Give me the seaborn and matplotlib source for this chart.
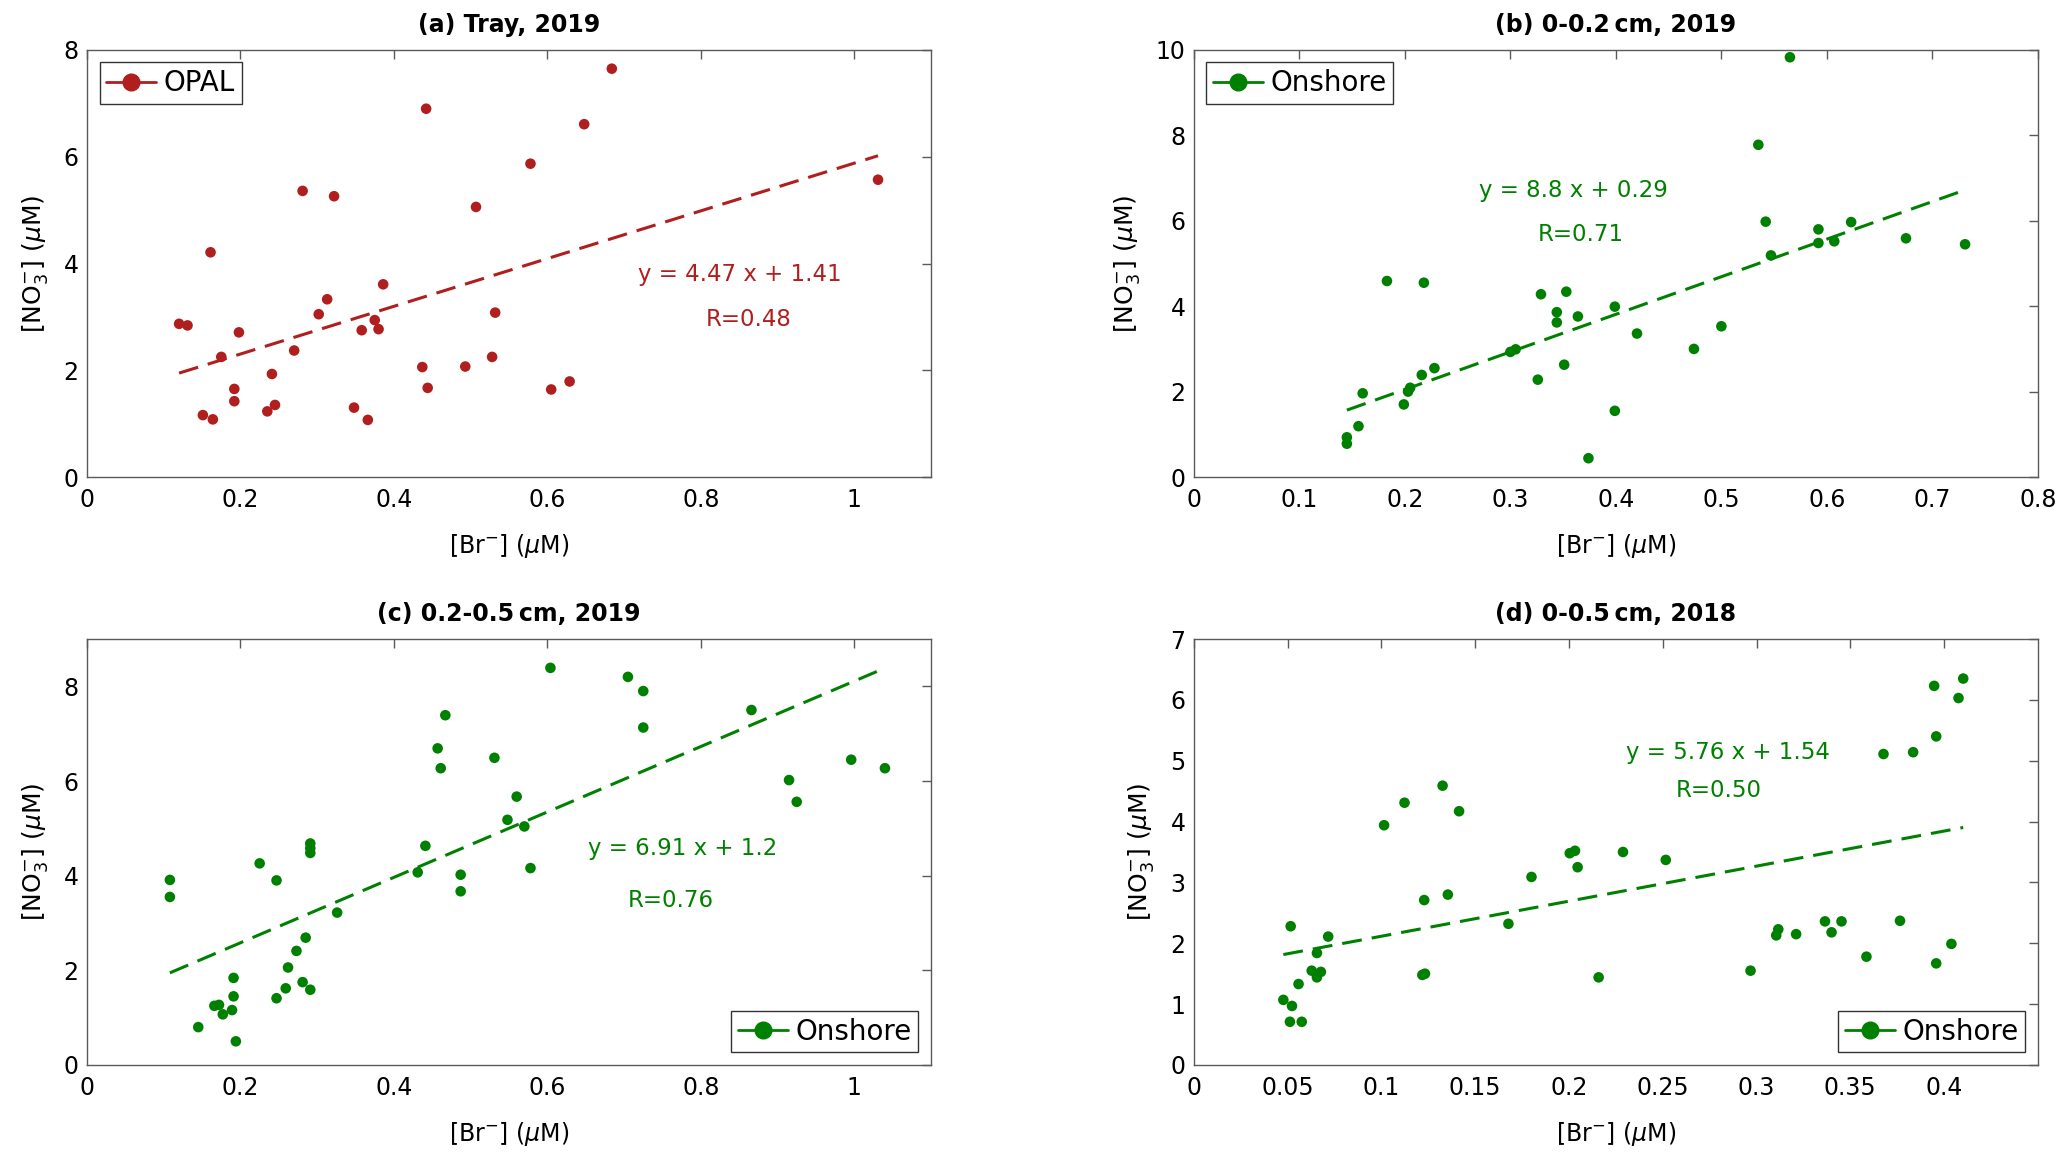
import numpy as np
import pandas as pd
import matplotlib
matplotlib.use("Agg")
import matplotlib.pyplot as plt
from matplotlib.lines import Line2D
import seaborn as sns

# ---------------- data ----------------
a_br = [0.120, 0.131, 0.161, 0.175, 0.151, 0.164, 0.192, 0.192, 0.198, 0.235, 0.241, 0.245,
        0.270, 0.281, 0.302, 0.313, 0.322, 0.348, 0.358, 0.366, 0.375, 0.380, 0.386, 0.437,
        0.442, 0.444, 0.493, 0.507, 0.528, 0.532, 0.578, 0.605, 0.629, 0.648, 0.684, 1.031]
a_no3 = [2.87, 2.84, 4.21, 2.25, 1.16, 1.08, 1.65, 1.42, 2.71, 1.23, 1.93, 1.35,
         2.37, 5.36, 3.05, 3.33, 5.26, 1.30, 2.75, 1.07, 2.94, 2.77, 3.61, 2.06,
         6.90, 1.67, 2.07, 5.06, 2.25, 3.08, 5.87, 1.64, 1.79, 6.61, 7.65, 5.57]

b_br = [0.145, 0.145, 0.156, 0.160, 0.183, 0.199, 0.203, 0.205, 0.216, 0.218, 0.228, 0.300,
        0.305, 0.326, 0.329, 0.344, 0.344, 0.351, 0.353, 0.364, 0.374, 0.399, 0.399, 0.420,
        0.474, 0.500, 0.535, 0.542, 0.547, 0.565, 0.592, 0.592, 0.607, 0.623, 0.675, 0.731]
b_no3 = [0.93, 0.78, 1.19, 1.96, 4.59, 1.70, 2.00, 2.09, 2.39, 4.55, 2.55, 2.93,
         2.99, 2.28, 4.28, 3.86, 3.62, 2.63, 4.34, 3.76, 0.44, 3.99, 1.55, 3.36,
         3.00, 3.53, 7.78, 5.98, 5.19, 9.83, 5.80, 5.48, 5.52, 5.97, 5.59, 5.45]

c_br = [0.108, 0.108, 0.145, 0.166, 0.172, 0.177, 0.189, 0.191, 0.191, 0.194, 0.225, 0.247,
        0.247, 0.259, 0.262, 0.273, 0.281, 0.285, 0.291, 0.291, 0.291, 0.291, 0.326, 0.431,
        0.441, 0.457, 0.461, 0.467, 0.487, 0.487, 0.531, 0.548, 0.560, 0.570, 0.578, 0.604,
        0.705, 0.725, 0.725, 0.866, 0.915, 0.925, 0.996, 1.040]
c_no3 = [3.91, 3.55, 0.80, 1.25, 1.27, 1.07, 1.16, 1.45, 1.84, 0.50, 4.26, 1.41,
         3.90, 1.62, 2.06, 2.41, 1.75, 2.69, 1.59, 4.68, 4.58, 4.48, 3.22, 4.07,
         4.63, 6.69, 6.27, 7.39, 4.02, 3.67, 6.49, 5.18, 5.67, 5.04, 4.16, 8.39,
         8.20, 7.90, 7.13, 7.50, 6.02, 5.56, 6.45, 6.27]

d_br = [0.0477, 0.0512, 0.0516, 0.0523, 0.0558, 0.0575, 0.0628, 0.0656, 0.0656, 0.0677, 0.0716,
        0.1014, 0.1123, 0.1218, 0.1232, 0.1228, 0.1326, 0.1354, 0.1414, 0.1677, 0.180, 0.2004,
        0.2032, 0.2046, 0.2158, 0.2288, 0.2516, 0.2968, 0.3105, 0.3116, 0.3211, 0.3365, 0.340,
        0.3453, 0.3586, 0.3677, 0.3765, 0.3835, 0.3947, 0.3958, 0.3958, 0.4039, 0.4077, 0.4102]
d_no3 = [1.07, 0.71, 2.28, 0.97, 1.33, 0.71, 1.55, 1.84, 1.44, 1.53, 2.11,
         3.94, 4.31, 1.48, 1.50, 2.71, 4.59, 2.80, 4.17, 2.32, 3.09, 3.48,
         3.52, 3.25, 1.44, 3.50, 3.37, 1.55, 2.13, 2.23, 2.15, 2.36, 2.18,
         2.36, 1.78, 5.11, 2.37, 5.14, 6.23, 5.40, 1.67, 1.99, 6.03, 6.35]

titles = ["(a) Tray, 2019", "(b) 0-0.2\u2009cm, 2019", "(c) 0.2-0.5\u2009cm, 2019", "(d) 0-0.5\u2009cm, 2018"]
legend_labels = ["OPAL", "Onshore", "Onshore", "Onshore"]
slopes = [4.47, 8.8, 6.91, 5.76]
intercepts = [1.41, 0.29, 1.2, 1.54]
eq_texts = ["y = 4.47 x + 1.41", "y = 8.8 x + 0.29", "y = 6.91 x + 1.2", "y = 5.76 x + 1.54"]
r_texts = ["R=0.48", "R=0.71", "R=0.76", "R=0.50"]

# ---------------- style ----------------
sns.set_theme(style="white")
plt.rcParams['font.family'] = ['DejaVu Sans']
plt.rcParams['mathtext.fontset'] = 'dejavusans'
plt.rcParams['text.color'] = 'black'
plt.rcParams['axes.labelcolor'] = 'black'

RED = '#B01E1E'
GREEN = '#008000'
AXC = '#5a5a5a'

fig = plt.figure(figsize=(20.67, 11.68), dpi=100)
rects = [
    [0.0421, 0.5916, 0.4083, 0.3656],
    [0.5776, 0.5916, 0.4083, 0.3656],
    [0.0421, 0.0882, 0.4083, 0.3647],
    [0.5776, 0.0882, 0.4083, 0.3647],
]

panels = [
    dict(x=a_br, y=a_no3, color=RED, xlim=(0, 1.1), ylim=(0, 8),
         xticks=[0, 0.2, 0.4, 0.6, 0.8, 1.0], xtl=["0", "0.2", "0.4", "0.6", "0.8", "1"],
         yticks=[0, 2, 4, 6, 8], loc='upper left', eq=(0.851, 3.79), r=(0.862, 2.96)),
    dict(x=b_br, y=b_no3, color=GREEN, xlim=(0, 0.8), ylim=(0, 10),
         xticks=[0, 0.1, 0.2, 0.3, 0.4, 0.5, 0.6, 0.7, 0.8],
         xtl=["0", "0.1", "0.2", "0.3", "0.4", "0.5", "0.6", "0.7", "0.8"],
         yticks=[0, 2, 4, 6, 8, 10], loc='upper left', eq=(0.360, 6.70), r=(0.367, 5.67)),
    dict(x=c_br, y=c_no3, color=GREEN, xlim=(0, 1.1), ylim=(0, 9),
         xticks=[0, 0.2, 0.4, 0.6, 0.8, 1.0], xtl=["0", "0.2", "0.4", "0.6", "0.8", "1"],
         yticks=[0, 2, 4, 6, 8], loc='lower right', eq=(0.776, 4.57), r=(0.761, 3.48)),
    dict(x=d_br, y=d_no3, color=GREEN, xlim=(0, 0.45), ylim=(0, 7),
         xticks=[0, 0.05, 0.1, 0.15, 0.2, 0.25, 0.3, 0.35, 0.4],
         xtl=["0", "0.05", "0.1", "0.15", "0.2", "0.25", "0.3", "0.35", "0.4"],
         yticks=[0, 1, 2, 3, 4, 5, 6, 7], loc='lower right', eq=(0.285, 5.13), r=(0.280, 4.51)),
]

for i, p in enumerate(panels):
    ax = fig.add_axes(rects[i])
    df = pd.DataFrame({"br": p['x'], "no3": p['y']})
    sns.scatterplot(data=df, x="br", y="no3", ax=ax, color=p['color'], s=58,
                    edgecolor='none', linewidth=0, zorder=3)
    xs = np.array([min(p['x']), max(p['x'])])
    fit = pd.DataFrame({"br": xs, "no3": slopes[i] * xs + intercepts[i]})
    sns.lineplot(data=fit, x="br", y="no3", ax=ax, color=p['color'], lw=2.2,
                 zorder=2)
    ax.lines[-1].set_dashes((6.5, 3.3))

    ax.set_xlim(*p['xlim'])
    ax.set_ylim(*p['ylim'])
    ax.set_xticks(p['xticks'])
    ax.set_xticklabels(p['xtl'])
    ax.set_yticks(p['yticks'])
    ax.tick_params(direction='in', length=6.5, width=1, color=AXC, labelsize=17,
                   labelcolor='black', top=True, right=True, pad=6)
    ax.tick_params(axis='x', pad=8)
    for sp in ax.spines.values():
        sp.set_visible(True)
        sp.set_color(AXC)
        sp.set_linewidth(1.0)
    ax.set_xlabel(r"[Br$^{-}$] ($\mu$M)", fontsize=17, labelpad=14, color='black')
    ax.set_ylabel(r"[NO$_3^{-}$] ($\mu$M)", fontsize=18, labelpad=10, color='black')
    ax.set_title(titles[i], fontsize=17, fontweight='bold', pad=13, color='black')

    ax.text(p['eq'][0], p['eq'][1], eq_texts[i], color=p['color'], fontsize=16.5,
            ha='center', va='center')
    ax.text(p['r'][0], p['r'][1], r_texts[i], color=p['color'], fontsize=16.5,
            ha='center', va='center')

    handle = Line2D([], [], color=p['color'], lw=2, marker='o', markersize=12)
    leg = ax.legend([handle], [legend_labels[i]], loc=p['loc'], fontsize=20,
                    frameon=True, fancybox=False, framealpha=1, edgecolor='#333333',
                    borderpad=0.25, handletextpad=0.25, handlelength=1.8,
                    borderaxespad=0.45)
    leg.get_frame().set_linewidth(1.0)
    for t in leg.get_texts():
        t.set_color('black')

fig.savefig("out.png", dpi=100, facecolor='white')
